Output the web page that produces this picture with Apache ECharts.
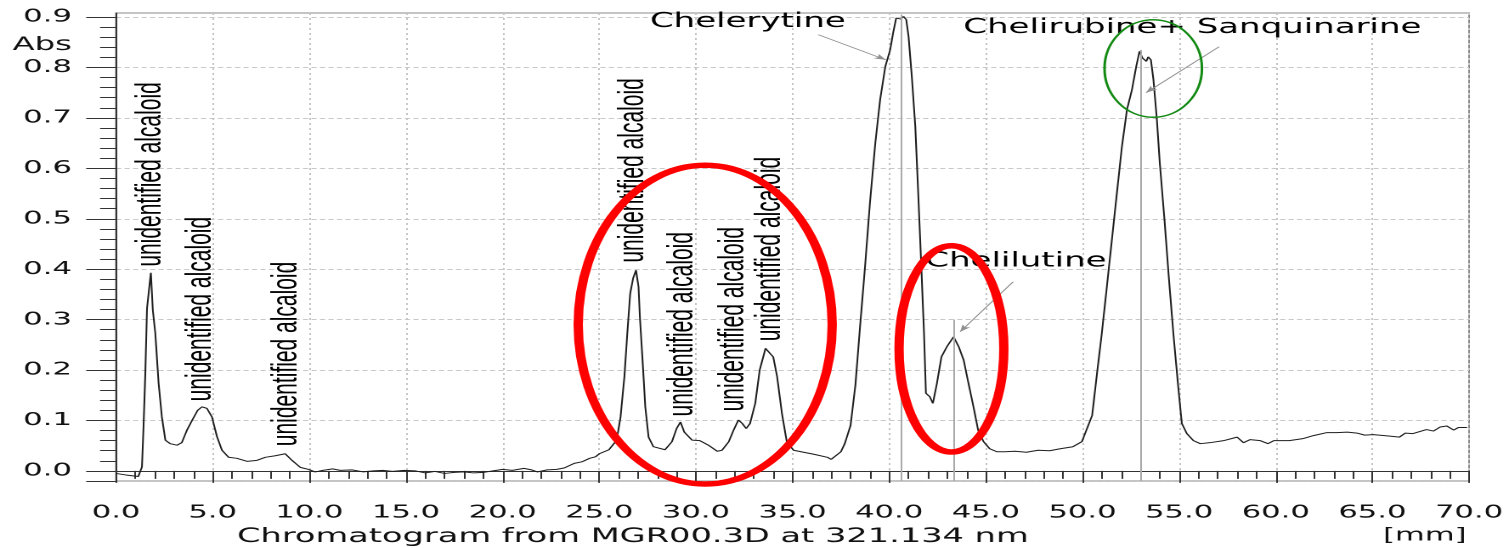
<!DOCTYPE html>
<html>
<head>
<meta charset="utf-8">
<script src="https://cdn.jsdelivr.net/npm/echarts@6.0.0/dist/echarts.min.js"></script>
<style>
  html, body { margin: 0; padding: 0; background: #fff; overflow: hidden; }
  /* the source picture is stretched sideways: draw it narrow, then stretch the whole chart */
  #chart { width: 888px; height: 548px; transform: scaleX(1.6993); transform-origin: 0 0; }
</style>
</head>
<body>
<div id="chart"></div>
<script>
// retention [mm] and absorbance
const retention = [
  0, 0.5, 1.15, 1.34, 1.42, 1.51, 1.6, 1.72, 1.8, 1.9,
  2.03, 2.2, 2.37, 2.55, 2.8, 3.15, 3.4, 3.67, 3.93, 4.22,
  4.44, 4.7, 4.96, 5.22, 5.48, 5.82, 6.25, 6.77, 7.29, 7.72,
  8.24, 8.75, 9.1, 9.53, 9.96, 10.3, 10.7, 11.2, 11.6, 12.2,
  12.8, 13.3, 13.8, 14.3, 14.9, 15.5, 16, 16.5, 17, 17.5,
  18, 18.5, 19, 19.5, 20, 20.5, 21.1, 21.5, 21.8, 22.3,
  22.8, 23.2, 23.7, 24.1, 24.5, 24.8, 25, 25.5, 25.9, 26.1,
  26.3, 26.45, 26.6, 26.75, 26.9, 27.03, 27.1, 27.26, 27.38, 27.55,
  27.8, 28.4, 28.76, 29, 29.2, 29.4, 29.8, 30.2, 30.65, 31.1,
  31.35, 31.7, 31.95, 32.2, 32.4, 32.6, 32.8, 33.07, 33.3, 33.6,
  33.76, 34, 34.2, 34.45, 34.7, 35.05, 35.7, 36.1, 36.8, 37,
  37.5, 37.7, 38, 38.25, 38.5, 38.76, 39, 39.28, 39.53, 39.8,
  40.05, 40.2, 40.36, 40.48, 40.6, 40.74, 40.88, 41, 41.17, 41.35,
  41.5, 41.64, 41.8, 41.9, 42.1, 42.26, 42.47, 42.7, 42.98, 43.33,
  43.6, 43.85, 44.1, 44.36, 44.6, 44.88, 45.2, 45.57, 46, 46.5,
  47.1, 47.7, 48.3, 48.85, 49.5, 49.97, 50.5, 50.75, 51, 51.26,
  51.52, 51.78, 52.04, 52.3, 52.56, 52.78, 52.95, 53.1, 53.3, 53.4,
  53.54, 53.67, 53.85, 54, 54.23, 54.45, 54.7, 54.97, 55.14, 55.4,
  55.74, 56.1, 56.6, 57.3, 58, 58.33, 58.67, 59.2, 59.6, 59.9,
  60.7, 61.4, 61.95, 62.65, 63.16, 63.7, 64.2, 64.6, 65.06, 65.9,
  66.4, 66.7, 67.1, 67.8, 68.16, 68.5, 68.85, 69.2, 69.45, 69.9
]
const absorbance = [
  -0.005, -0.008, -0.011, 0.008, 0.087, 0.19, 0.322, 0.365, 0.393, 0.319,
  0.273, 0.174, 0.107, 0.061, 0.054, 0.051, 0.056, 0.081, 0.1, 0.12,
  0.127, 0.124, 0.107, 0.068, 0.041, 0.027, 0.025, 0.019, 0.021, 0.027,
  0.03, 0.034, 0.021, 0.007, 0.003, -0.002, 0.001, 0.004, 0.001, 0.002,
  -0.002, 0, 0.001, -0.001, 0.001, 0, -0.004, -0.001, -0.005, -0.003,
  -0.002, -0.004, -0.003, 0, 0.003, 0.001, 0.005, 0.002, -0.002, 0.002,
  0.003, 0.006, 0.015, 0.018, 0.025, 0.028, 0.034, 0.042, 0.061, 0.107,
  0.187, 0.273, 0.352, 0.382, 0.398, 0.365, 0.306, 0.206, 0.127, 0.067,
  0.048, 0.042, 0.058, 0.084, 0.097, 0.077, 0.061, 0.06, 0.051, 0.039,
  0.041, 0.058, 0.081, 0.101, 0.094, 0.084, 0.094, 0.134, 0.2, 0.243,
  0.245, 0.226, 0.187, 0.114, 0.058, 0.041, 0.036, 0.033, 0.027, 0.023,
  0.038, 0.054, 0.09, 0.17, 0.29, 0.41, 0.53, 0.65, 0.736, 0.802,
  0.835, 0.868, 0.898, 0.901, 0.896, 0.901, 0.895, 0.862, 0.782, 0.683,
  0.551, 0.425, 0.273, 0.154, 0.147, 0.134, 0.174, 0.226, 0.246, 0.266,
  0.246, 0.22, 0.174, 0.127, 0.081, 0.058, 0.044, 0.038, 0.038, 0.039,
  0.037, 0.041, 0.04, 0.044, 0.048, 0.058, 0.11, 0.193, 0.273, 0.365,
  0.458, 0.551, 0.643, 0.716, 0.756, 0.802, 0.832, 0.819, 0.812, 0.821,
  0.815, 0.776, 0.696, 0.61, 0.504, 0.392, 0.273, 0.16, 0.094, 0.074,
  0.06, 0.054, 0.056, 0.06, 0.067, 0.056, 0.062, 0.06, 0.054, 0.06,
  0.06, 0.064, 0.07, 0.076, 0.076, 0.077, 0.075, 0.071, 0.072, 0.069,
  0.067, 0.075, 0.074, 0.082, 0.079, 0.087, 0.089, 0.081, 0.086, 0.086
]

// axes
const xMin = 0, xMax = 70, xStep = 5
const yMin = -0.02, yMax = 0.908
const yTickValues = [0, 0.1, 0.2, 0.3, 0.4, 0.5, 0.6, 0.7, 0.8, 0.9]

// vertical "unidentified alcaloid" labels (foot of each label, in mm / Abs)
const unknownLabel = 'unidentified alcaloid'
const unknownMm = [1.82, 4.41, 8.88, 26.8, 29.34, 31.98, 33.9]
const unknownAbs = [0.404, 0.137, 0.048, 0.412, 0.107, 0.117, 0.256]

// named compounds
const compoundNames = ['Chelerytine', 'Chelilutine', 'Chelirubine+ Sanquinarine']
const compoundTextMm = [32.73, 46.6, 55.73]
const compoundTextAbs = [0.89, 0.415, 0.878]
const compoundPeakMm = [40.62, 43.38, 52.98]
const compoundLineTop = [0.905, 0.3, 0.835]
const arrowFrom = [[36.33, 0.865], [46.41, 0.375], [57.07, 0.841]]
const arrowTo = [[39.84, 0.815], [43.67, 0.276], [53.29, 0.75]]

// hand drawn circles: centre mm, centre Abs, radius mm, radius Abs
const redCircles = [[30.48, 0.29, 6.57, 0.316], [43.22, 0.242, 2.71, 0.2045]]
const greenCircles = [[53.66, 0.798, 2.52, 0.0967]]

const textFont = 'DejaVu Sans'

const markLines = []
compoundPeakMm.forEach((x, i) => {
  markLines.push([
    { coord: [x, yMin], lineStyle: { color: '#a9a9a9', width: 1, type: 'solid' } },
    { coord: [x, compoundLineTop[i]] }
  ])
  markLines.push([
    { coord: arrowFrom[i], lineStyle: { color: '#8f8f8f', width: 0.8, type: 'solid' } },
    { coord: arrowTo[i], symbol: 'arrow', symbolSize: [4, 7] }
  ])
})

const markPoints = []
unknownMm.forEach((x, i) => {
  markPoints.push({
    coord: [x, unknownAbs[i]],
    label: {
      formatter: unknownLabel, rotate: 90, position: [0, 0], align: 'left', verticalAlign: 'middle',
      fontFamily: 'Liberation Sans', fontSize: 21, color: '#000'
    }
  })
})
compoundNames.forEach((name, i) => {
  markPoints.push({
    coord: [compoundTextMm[i], compoundTextAbs[i]],
    label: {
      formatter: name, position: [0, 0], align: 'center', verticalAlign: 'middle',
      fontFamily: textFont, fontSize: 20, color: '#000'
    }
  })
})

const circleSeries = (data, color, width) => ({
  type: 'custom',
  data,
  encode: { x: 0, y: 1 },
  clip: false,
  silent: true,
  z: 10,
  renderItem: (params, api) => {
    const c = api.coord([api.value(0), api.value(1)])
    const s = api.size([api.value(2), api.value(3)])
    return {
      type: 'ellipse',
      shape: { cx: c[0], cy: c[1], rx: s[0], ry: s[1] },
      style: { fill: null, stroke: color, lineWidth: width }
    }
  }
})

const chart = echarts.init(document.getElementById('chart'), null, { devicePixelRatio: 2 })
chart.setOption({
  animation: false,
  backgroundColor: '#fff',
  title: [
    {
      text: 'Chromatogram from MGR00.3D at 321.134 nm', left: 139.5, top: 527, padding: 0,
      textStyle: { fontFamily: textFont, fontSize: 19.8, fontWeight: 'normal', color: '#111' }
    },
    {
      text: '[mm]', right: 25, top: 527, padding: 0,
      textStyle: { fontFamily: textFont, fontSize: 18, fontWeight: 'normal', color: '#111' }
    }
  ],
  grid: {
    left: 68.3, right: 23.5, top: 13, bottom: 67,
    show: true, borderColor: '#8a8a8a', borderWidth: 1
  },
  xAxis: {
    type: 'value', min: xMin, max: xMax, interval: xStep,
    axisLine: { lineStyle: { color: '#333', width: 1 } },
    axisTick: { length: 12, lineStyle: { color: '#333' } },
    minorTick: { show: true, splitNumber: 5, length: 8, lineStyle: { color: '#333' } },
    axisLabel: {
      margin: 23, color: '#111', fontFamily: textFont, fontSize: 18,
      formatter: v => v.toFixed(1)
    },
    splitLine: { show: true, lineStyle: { color: '#c4c4c4', type: [2, 3] } }
  },
  yAxis: {
    type: 'value', min: yMin, max: yMax, splitNumber: 9,
    name: 'Abs', nameLocation: 'end', nameGap: -32,
    nameTextStyle: {
      fontFamily: textFont, fontSize: 19, color: '#111',
      align: 'right', verticalAlign: 'middle', padding: [0, 26, 0, 0]
    },
    axisLine: { show: true, lineStyle: { color: '#333', width: 1 } },
    axisTick: { show: true, length: 17.6, lineStyle: { color: '#333' }, customValues: [yMin].concat(yTickValues) },
    minorTick: { show: true, splitNumber: 5, length: 9.4, lineStyle: { color: '#333' } },
    axisLabel: {
      margin: 26, color: '#111', fontFamily: textFont, fontSize: 18,
      customValues: yTickValues,
      formatter: v => v.toFixed(1)
    },
    splitLine: { show: true, lineStyle: { color: '#c8c8c8', type: [3, 2] } }
  },
  series: [
    {
      type: 'line',
      data: retention.map((x, i) => [x, absorbance[i]]),
      symbol: 'none',
      lineStyle: { color: '#1e1e1e', width: 1 },
      z: 3,
      markLine: {
        silent: true, symbol: ['none', 'none'], label: { show: false },
        emphasis: { disabled: true },
        data: markLines
      },
      markPoint: {
        silent: true, symbol: 'circle', symbolSize: 1,
        itemStyle: { color: 'rgba(0,0,0,0)' },
        label: { show: true },
        data: markPoints
      }
    },
    circleSeries(redCircles, '#ff0000', 5.5),
    circleSeries(greenCircles, '#138a13', 1.5)
  ]
})
</script>
</body>
</html>
